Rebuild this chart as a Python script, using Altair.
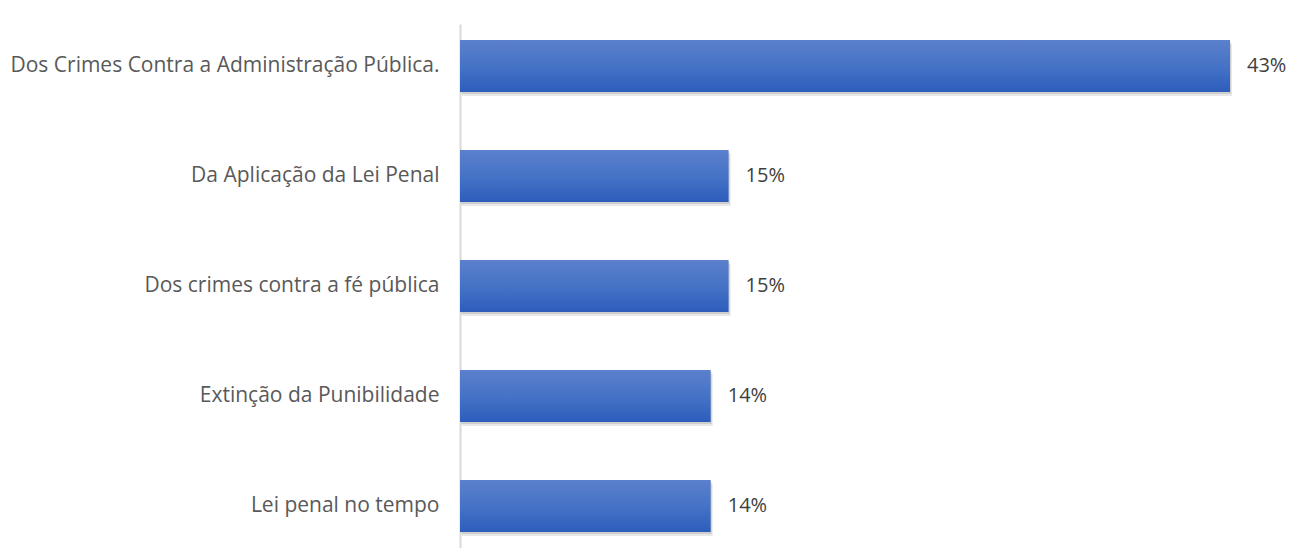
import altair as alt
import pandas as pd

categories = [
    "Dos Crimes Contra a Administração Pública.",
    "Da Aplicação da Lei Penal",
    "Dos crimes contra a fé pública",
    "Extinção da Punibilidade",
    "Lei penal no tempo",
]
values = [43, 15, 15, 14, 14]
value_labels = ["43%", "15%", "15%", "14%", "14%"]

df = pd.DataFrame({"cat": categories, "val": values, "lab": value_labels})

FONT = "Open Sans"

y_enc = alt.Y("cat:N", sort=categories,
              scale=alt.Scale(paddingInner=0.527, paddingOuter=0.145),
              axis=alt.Axis(title=None, ticks=False, domain=True, domainColor="#d9d9d9",
                            domainWidth=2, labelFont=FONT, labelFontSize=21,
                            labelColor="#595959", labelPadding=21, labelLimit=500))
x_enc = alt.X("val:Q", scale=alt.Scale(domain=[0, 43], nice=False, zero=True),
              axis=None)

grad = alt.Gradient(
    gradient="linear",
    stops=[
        alt.GradientStop(offset=0, color="#5b80cc"),
        alt.GradientStop(offset=0.5, color="#4573c6"),
        alt.GradientStop(offset=1, color="#2d5dbc"),
    ],
    x1=0, x2=0, y1=0, y2=1,
)

base = alt.Chart(df)

shadow1 = base.mark_bar(color="#7f7f7f", opacity=0.18, xOffset=2, yOffset=4).encode(y=y_enc, x=x_enc)
shadow2 = base.mark_bar(color="#7f7f7f", opacity=0.25, xOffset=1, yOffset=2).encode(y=y_enc, x=x_enc)
bars = base.mark_bar(color=grad).encode(y=y_enc, x=x_enc)
text = base.mark_text(align="left", baseline="middle", dx=17, font=FONT, fontSize=20,
                      color="#404040").encode(y=y_enc, x=x_enc, text="lab:N")

chart = (shadow1 + shadow2 + bars + text).properties(
    width=770, height=524,
    autosize=alt.AutoSizeParams(type="none"),
    padding={"left": 452, "top": 16, "right": 56, "bottom": 0},
).configure(background="white", view=alt.ViewConfig(stroke=None))

chart.save("out.html", embed_options={"renderer": "svg", "actions": False})
